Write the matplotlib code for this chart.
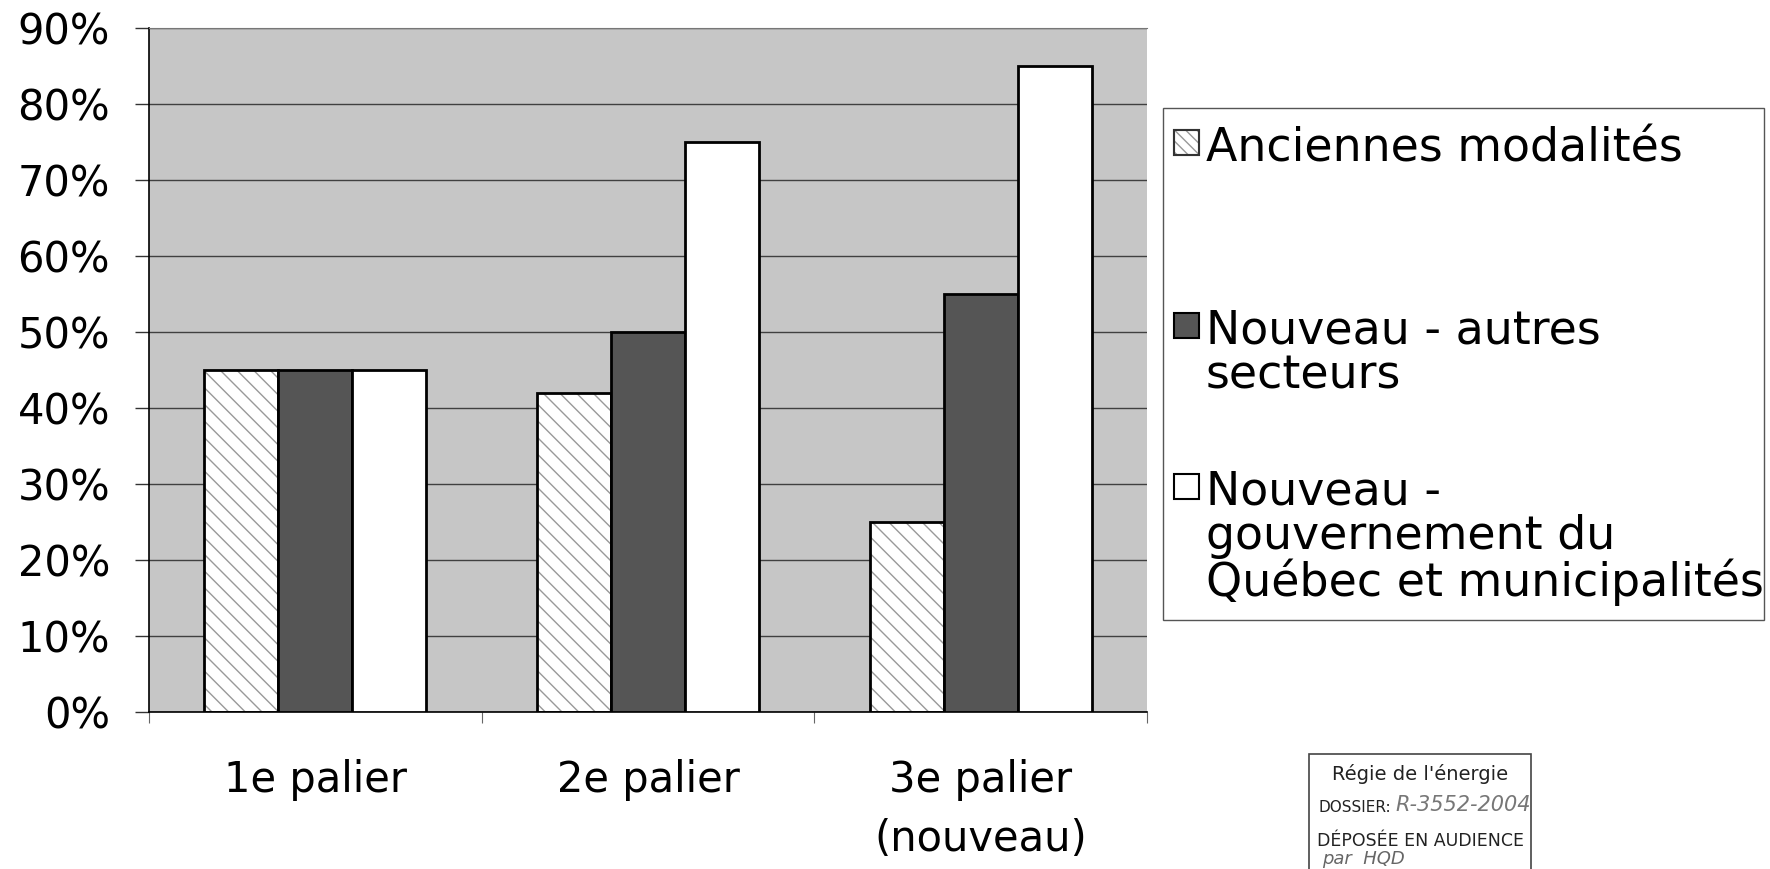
import matplotlib
matplotlib.use("Agg")
import matplotlib.pyplot as plt
from matplotlib.patches import Rectangle
import numpy as np

plt.rcParams['font.family'] = ['DejaVu Sans']
plt.rcParams['hatch.linewidth'] = 1.0

# ---- data ----
categories = ["1e palier", "2e palier", "3e palier\n(nouveau)"]
series_labels = ["Anciennes modalités",
                 "Nouveau - autres\nsecteurs",
                 "Nouveau -\ngouvernement du\nQuébec et municipalités"]
anciennes = [45, 42, 25]
autres_secteurs = [45, 50, 55]
gouv_municip = [45, 75, 85]
y_ticks = [0, 10, 20, 30, 40, 50, 60, 70, 80, 90]
y_tick_labels = [f"{v}%" for v in y_ticks]

W, H = 1770, 869
fig = plt.figure(figsize=(W / 100, H / 100), dpi=100)
fig.patch.set_facecolor('white')

def fx(px):
    return px / W

def fy(py):
    return 1 - py / H

ax = fig.add_axes([fx(149), fy(712), fx(1147) - fx(149), fy(28) - fy(712)])
ax.set_facecolor('#c6c6c6')

x = np.arange(len(categories))
w = 1 / 4.5

# hatched series: hatch layer then outline
ax.bar(x - w, anciennes, w, color='white', edgecolor='#999999', hatch='\\\\', linewidth=0, zorder=2)
ax.bar(x - w, anciennes, w, fill=False, edgecolor='black', linewidth=2, zorder=3)
ax.bar(x, autres_secteurs, w, color='#555555', edgecolor='black', linewidth=2, zorder=3)
ax.bar(x + w, gouv_municip, w, color='white', edgecolor='black', linewidth=2, zorder=3)

ax.set_xlim(-0.5, len(categories) - 0.5)
ax.set_ylim(0, 90)
ax.set_yticks(y_ticks)
ax.set_yticklabels(y_tick_labels)
ax.tick_params(axis='y', labelsize=30, length=10, width=1, pad=18, color='#333333')

# category boundary ticks (major, no labels) and labels at centres (minor)
ax.set_xticks(np.arange(len(categories) + 1) - 0.5)
ax.set_xticklabels([])
ax.set_xticks(x, minor=True)
ax.set_xticklabels(categories, minor=True, linespacing=1.5)
ax.tick_params(axis='x', which='major', length=8, width=0.8, color='#666666')
ax.tick_params(axis='x', which='minor', length=0, labelsize=30, pad=34)

ax.yaxis.grid(True, color='#404040', linewidth=1.0)
ax.set_axisbelow(True)
ax.spines['right'].set_visible(False)
ax.spines['top'].set_color('#777777')
ax.spines['top'].set_linewidth(0.8)
ax.spines['left'].set_color('black')
ax.spines['left'].set_linewidth(1.2)
ax.spines['bottom'].set_color('black')
ax.spines['bottom'].set_linewidth(1.2)

# ---- legend (drawn in figure coordinates) ----
fig.add_artist(Rectangle((fx(1163), fy(620)), fx(1764) - fx(1163), fy(108) - fy(620),
                         transform=fig.transFigure, fill=False, edgecolor='#555555', linewidth=1.0))
hs = 25
handle_tops = [130, 313, 474]
handle_styles = [dict(facecolor='white', edgecolor='#999999', hatch='\\\\\\'),
                 dict(facecolor='#555555', edgecolor='black'),
                 dict(facecolor='white', edgecolor='black')]
for top, label, st in zip(handle_tops, series_labels, handle_styles):
    fig.add_artist(Rectangle((fx(1174), fy(top + hs)), fx(hs), fy(top) - fy(top + hs),
                             transform=fig.transFigure, linewidth=1.5, **st))
    if 'hatch' in st:
        fig.add_artist(Rectangle((fx(1174), fy(top + hs)), fx(hs), fy(top) - fy(top + hs),
                                 transform=fig.transFigure, fill=False, edgecolor='#333333', linewidth=1.5))
    fig.text(fx(1206), fy(top - 4), label, fontsize=33, va='top', ha='left',
             linespacing=0.98, color='black')

# ---- stamp ----
fig.add_artist(Rectangle((fx(1309), fy(880)), fx(1531) - fx(1309), fy(754) - fy(880),
                         transform=fig.transFigure, fill=False, edgecolor='#444444', linewidth=1.2))
fig.text(fx(1420), fy(774), "Régie de l'énergie", fontsize=14, ha='center', va='center', color='#222222')
fig.text(fx(1319), fy(807), "DOSSIER:", fontsize=11, ha='left', va='center', color='#222222')
fig.text(fx(1395), fy(805), "R-3552-2004", fontsize=15, ha='left', va='center', color='#777777',
         style='italic')
fig.text(fx(1317), fy(841), "DÉPOSÉE EN AUDIENCE", fontsize=12.5, ha='left', va='center', color='#222222')
fig.text(fx(1322), fy(859), "par  HQD", fontsize=13, ha='left', va='center', color='#666666',
         style='italic')

fig.savefig("out.png", dpi=100)
